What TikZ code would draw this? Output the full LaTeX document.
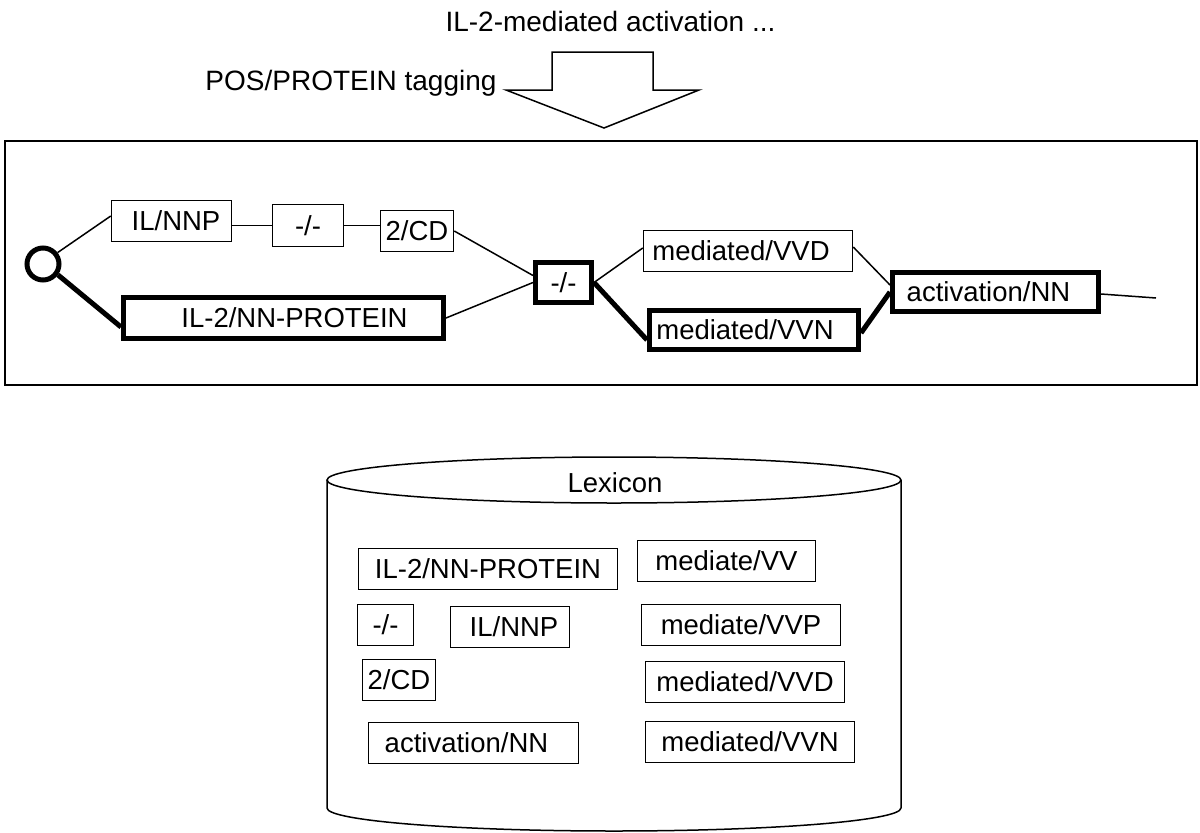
\documentclass[tikz,border=0pt]{standalone}
\usepackage{fontspec}
\setmainfont{Liberation Sans}
\begin{document}
\begin{tikzpicture}[x=1pt,y=-1pt,
  every node/.style={font=\fontsize{27.5pt}{33pt}\selectfont},
  box/.style={draw, line width=1.5pt, rectangle, inner sep=0pt, text height=19.5pt, text depth=0pt, minimum height=41pt},
  tbox/.style={box, line width=5pt, minimum height=40pt},
  conn/.style={line width=1.5pt},
  boldconn/.style={line width=5pt},
  toplbl/.style={font=\fontsize{28pt}{33pt}\selectfont, inner sep=0pt, anchor=base}]
\useasboundingbox (0,0) rectangle (1200,833);

% input text and arrow
\node[toplbl] (sent) at (610.5,31.5) {IL-2-mediated activation ...};
\node[toplbl] (tag) at (351,90) {POS/PROTEIN tagging};
\draw[line width=1.5pt, line join=miter] (552,52) -- (653,52) -- (653,90) -- (699,90) -- (604,128) -- (506,90) -- (552,90) -- cycle;

% lattice frame
\draw[line width=1.5pt] (5,141) rectangle (1197,385);

% lattice nodes
\node[draw, circle, line width=5pt, minimum size=32pt, inner sep=0pt] (start) at (43,264) {};
\node[box, minimum width=120pt] (ilnnp) at (171.5,221) {\hspace*{9pt}IL/NNP};
\node[box, minimum width=71pt, minimum height=42pt] (dasha) at (308,225.5) {-/-};
\node[box, minimum width=73pt] (cd) at (417,231) {2/CD};
\node[tbox, minimum width=320pt, minimum height=41pt] (il2) at (283.5,318) {\hspace*{22pt}IL-2/NN-PROTEIN};
\node[tbox, minimum width=56pt] (dashb) at (563.5,282.5) {-/-};
\node[box, minimum width=209pt] (vvd) at (748,251) {\hspace*{-14pt}mediated/VVD};
\node[tbox, minimum width=209pt, minimum height=39pt] (vvn) at (754,330) {\hspace*{-18pt}mediated/VVN};
\node[tbox, minimum width=206pt, minimum height=39pt] (act) at (995.5,292) {\hspace*{-14pt}activation/NN};
\coordinate (endpt) at (1156,298);

% lattice connectors
\draw[conn] (start.38) -- ([yshift=5pt]ilnnp.west);
\draw[boldconn] (start.-36) -- ([yshift=-9pt]il2.west);
\draw[conn] (ilnnp.east |- dasha.west) -- (dasha.west);
\draw[conn] (dasha.east) -- (dasha.east -| cd.west);
\draw[conn] (cd.east) -- ([yshift=7pt]dashb.west);
\draw[conn] (il2.east) -- (dashb.west);
\draw[conn] (dashb.east) -- ([yshift=3pt]vvd.west);
\draw[boldconn] (dashb.east) -- ([yshift=-10pt]vvn.west);
\draw[conn] ([yshift=4pt]vvd.east) -- ([yshift=7pt]act.west);
\draw[boldconn] ([yshift=-3pt]vvn.east) -- (act.west);
\draw[conn] ([yshift=-2pt]act.east) -- (endpt);

% lexicon cylinder
\draw[line width=1.5pt] (614,480) ellipse [x radius=287pt, y radius=23pt];
\draw[line width=1.5pt] (327,480) -- (327,808) arc[start angle=180, end angle=360, x radius=287pt, y radius=23pt] -- (901,480);
\node (lex) at (615,482.5) {Lexicon};

% lexicon entries
\node[box, minimum width=259pt] (lx1) at (488,569) {IL-2/NN-PROTEIN};
\node[box, minimum width=178pt] (lx2) at (726.5,561) {mediate/VV};
\node[box, minimum width=56pt] (lx3) at (385.5,625) {-/-};
\node[box, minimum width=119pt] (lx4) at (510,627) {\hspace*{8pt}IL/NNP};
\node[box, minimum width=199pt] (lx5) at (741,625) {mediate/VVP};
\node[box, minimum width=73pt] (lx6) at (399,680) {2/CD};
\node[box, minimum width=199pt] (lx7) at (745,682) {mediated/VVD};
\node[box, minimum width=210pt] (lx8) at (473.5,743) {\hspace*{-14pt}activation/NN};
\node[box, minimum width=209pt] (lx9) at (750,742) {mediated/VVN};
\end{tikzpicture}
\end{document}
